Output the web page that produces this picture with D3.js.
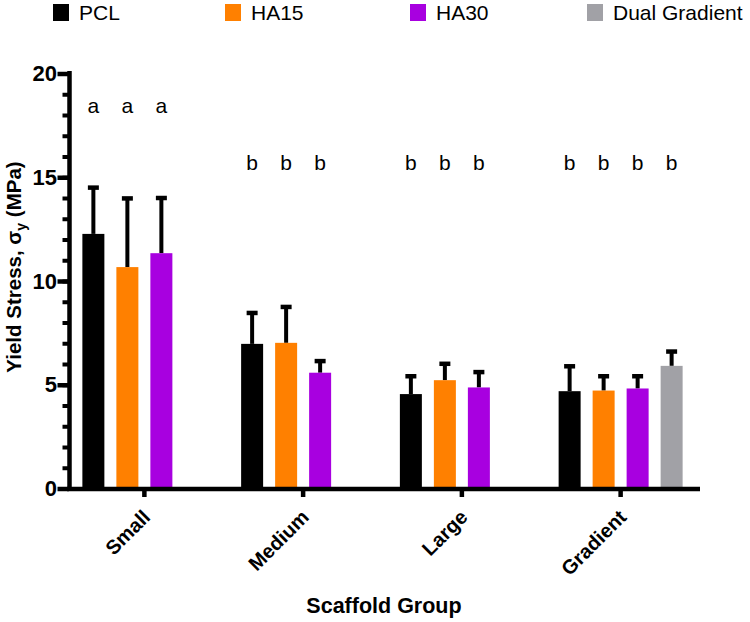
<!DOCTYPE html>
<html>
<head>
<meta charset="utf-8">
<script src="https://cdn.jsdelivr.net/npm/d3@7"></script>
<style>
  html, body { margin: 0; padding: 0; background: #fff; }
  svg { display: block; font-family: "Liberation Sans", Arial, sans-serif; }
</style>
</head>
<body>
<svg id="chart" width="750" height="622"></svg>
<script>
// ---- data ----
const categories = ["Small", "Medium", "Large", "Gradient"];
const seriesNames = ["PCL", "HA15", "HA30", "Dual Gradient"];
const pclMean  = [12.27, 6.97, 4.55, 4.69];
const pclErr   = [2.23, 1.49, 0.86, 1.20];
const ha15Mean = [10.67, 7.02, 5.22, 4.72];
const ha15Err  = [3.31, 1.73, 0.79, 0.69];
const ha30Mean = [11.34, 5.58, 4.87, 4.82];
const ha30Err  = [2.66, 0.56, 0.74, 0.59];
const dualMean = [null, null, null, 5.91];
const dualErr  = [null, null, null, 0.69];
const sigLetters = [["a","a","a",null],["b","b","b",null],["b","b","b",null],["b","b","b","b"]];
const yMajorTicks = [0, 5, 10, 15, 20];
const yMinorTicks = d3.range(0, 21, 1);
const colors = ["#000000", "#FF8000", "#A800E0", "#A1A1A6"];

const means = [pclMean, ha15Mean, ha30Mean, dualMean];
const errs = [pclErr, ha15Err, ha30Err, dualErr];

const svg = d3.select("#chart");

const y = d3.scaleLinear().domain([0, 20]).range([488.5, 73.5]);
const x0 = d3.scaleBand().domain(categories).range([65, 700]).padding(0);
const x1 = d3.scaleBand().domain(seriesNames).range([0, x0.bandwidth()])
  .paddingInner(0.353).paddingOuter(0.511);

// bars data
const barData = [];
categories.forEach((c, ci) => {
  seriesNames.forEach((s, si) => {
    const v = means[si][ci];
    if (v != null) barData.push({cat: c, ser: s, si, v, e: errs[si][ci]});
  });
});

const g = svg.append("g");

// error bars (stems) behind bars
g.selectAll("line.stem").data(barData).enter().append("line")
  .attr("x1", d => x0(d.cat) + x1(d.ser) + x1.bandwidth() / 2)
  .attr("x2", d => x0(d.cat) + x1(d.ser) + x1.bandwidth() / 2)
  .attr("y1", d => y(d.v))
  .attr("y2", d => y(d.v + d.e))
  .attr("stroke", "#000").attr("stroke-width", 4);
g.selectAll("line.cap").data(barData).enter().append("line")
  .attr("x1", d => x0(d.cat) + x1(d.ser) + x1.bandwidth() / 2 - 5.5)
  .attr("x2", d => x0(d.cat) + x1(d.ser) + x1.bandwidth() / 2 + 5.5)
  .attr("y1", d => y(d.v + d.e))
  .attr("y2", d => y(d.v + d.e))
  .attr("stroke", "#000").attr("stroke-width", 4.5);

g.selectAll("rect.bar").data(barData).enter().append("rect")
  .attr("x", d => x0(d.cat) + x1(d.ser))
  .attr("width", x1.bandwidth())
  .attr("y", d => y(d.v))
  .attr("height", d => y(0) - y(d.v))
  .attr("fill", d => colors[d.si]);

// significance letters
const letterData = [];
categories.forEach((c, ci) => {
  sigLetters[ci].forEach((l, si) => { if (l) letterData.push({cat: c, ser: seriesNames[si], l}); });
});
g.selectAll("text.sig").data(letterData).enter().append("text")
  .attr("x", d => x0(d.cat) + x1(d.ser) + x1.bandwidth() / 2)
  .attr("y", d => d.l === "a" ? 113 : 170)
  .attr("text-anchor", "middle")
  .attr("font-size", 21)
  .text(d => d.l);

// y axis minor
const yMinor = svg.append("g").attr("transform", "translate(69,0)")
  .call(d3.axisLeft(y).tickValues(yMinorTicks).tickSize(6.5).tickFormat(""));
yMinor.select(".domain").remove();
yMinor.selectAll(".tick line").attr("stroke-width", 4);

// y axis major
const yAxis = svg.append("g").attr("transform", "translate(69,0)")
  .call(d3.axisLeft(y).tickValues(yMajorTicks).tickSize(11.5).tickSizeOuter(0).tickPadding(0.5));
yAxis.select(".domain").attr("stroke-width", 4.5).attr("d", `M0.5,${y(20) - 2.5}V${y(0) + 2}`);
yAxis.selectAll(".tick line").attr("stroke-width", 4.5);
yAxis.selectAll(".tick text").attr("font-size", 22).attr("font-weight", "bold")
  .attr("font-family", "'Liberation Sans', Arial, sans-serif").attr("fill", "#000");

// x axis
const xAxis = svg.append("g").attr("transform", `translate(0,${y(0)})`)
  .call(d3.axisBottom(x0).tickSize(8.5).tickSizeOuter(0));
xAxis.select(".domain").attr("stroke-width", 4.5).attr("d", "M67,0.5H700");
xAxis.selectAll(".tick line").attr("stroke-width", 4.5);
xAxis.selectAll(".tick text")
  .attr("font-size", 20).attr("font-weight", "bold")
  .attr("font-family", "'Liberation Sans', Arial, sans-serif").attr("fill", "#000")
  .attr("x", 0).attr("y", 0).attr("dy", null)
  .attr("text-anchor", "end")
  .attr("transform", "translate(7,30) rotate(-45)");

// axis titles
svg.append("text")
  .attr("x", 384).attr("y", 613)
  .attr("text-anchor", "middle").attr("font-size", 21.5).attr("font-weight", "bold")
  .text("Scaffold Group");

const yt = svg.append("text")
  .attr("transform", "translate(21,267) rotate(-90)")
  .attr("text-anchor", "middle").attr("font-size", 20.5).attr("font-weight", "bold");
yt.append("tspan").text("Yield Stress, σ");
yt.append("tspan").attr("font-size", 14).attr("dy", 5).text("y");
yt.append("tspan").attr("dy", -5).text(" (MPa)");

// legend
const legendX = [53, 225, 410, 587];
const leg = svg.append("g").selectAll("g").data(seriesNames).enter().append("g")
  .attr("transform", (d, i) => `translate(${legendX[i]},0)`);
leg.append("rect").attr("x", 0).attr("y", 4).attr("width", 16).attr("height", 17)
  .attr("fill", (d, i) => colors[i]);
leg.append("text").attr("x", 26).attr("y", 20).attr("font-size", 21).text(d => d);
</script>
</body>
</html>
